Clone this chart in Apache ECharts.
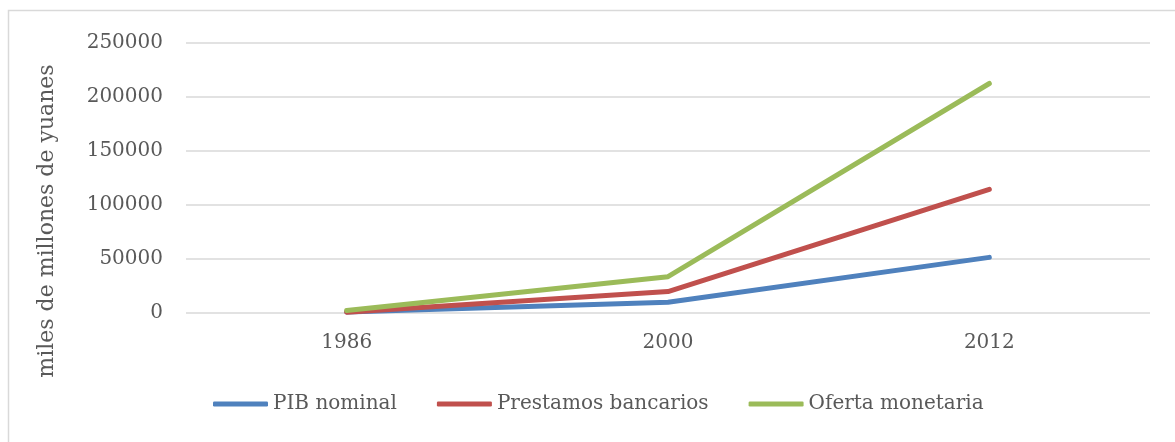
<!DOCTYPE html>
<html>
<head>
<meta charset="utf-8">
<script src="https://cdn.jsdelivr.net/npm/echarts@6/dist/echarts.min.js"></script>
<style>
  html, body { margin: 0; padding: 0; background: #fff; }
  #chart { width: 1175px; height: 442px; }
</style>
</head>
<body>
<div id="chart"></div>
<script>
// Years on the horizontal axis
const years = ['1986', '2000', '2012'];
// Series values, miles de millones de yuanes
const pibNominal = [1000, 9900, 51500];
const prestamosBancarios = [800, 19800, 114500];
const ofertaMonetaria = [2400, 33600, 212500];
// Y-axis ticks
const yMin = 0, yMax = 250000, yStep = 50000;
const yTitle = 'miles de millones de yuanes';

const FONT = 'DejaVu Serif';
const TEXT = '#595959';

const chart = echarts.init(document.getElementById('chart'), null, { renderer: 'canvas' });

function lineSeries(name, data, color) {
  return {
    name, type: 'line', data,
    symbol: 'none',
    lineStyle: { width: 5, color, cap: 'round', join: 'round' },
    itemStyle: { color },
    emphasis: { disabled: true }
  };
}

chart.setOption({
  animation: false,
  backgroundColor: '#fff',
  graphic: [
    {
      type: 'rect', left: 6, top: 8,
      shape: { width: 1200, height: 500 },
      style: { fill: 'none', stroke: '#d9d9d9', lineWidth: 1.5 },
      silent: true
    },
    {
      // vertical axis title, centred beside the plot
      type: 'text', x: 47, y: 221, rotation: Math.PI / 2,
      style: {
        text: yTitle, fontFamily: FONT, fontSize: 22, fill: TEXT,
        align: 'center', verticalAlign: 'middle'
      },
      silent: true
    }
  ],
  grid: { left: 186, right: 25, top: 43, bottom: 129 },
  legend: {
    bottom: 23, left: 208,
    icon: 'roundRect',
    itemWidth: 55, itemHeight: 5, itemGap: 40,
    textStyle: { fontFamily: FONT, fontSize: 20, color: TEXT },
    data: ['PIB nominal', 'Prestamos bancarios', 'Oferta monetaria']
  },
  xAxis: {
    type: 'category', data: years, boundaryGap: true,
    axisLine: { show: false }, axisTick: { show: false },
    axisLabel: { fontFamily: FONT, fontSize: 20, color: TEXT, margin: 20 }
  },
  yAxis: {
    type: 'value', min: yMin, max: yMax, interval: yStep,
    axisLine: { show: false }, axisTick: { show: false },
    axisLabel: { fontFamily: FONT, fontSize: 20, color: TEXT, margin: 23, formatter: v => String(v) },
    splitLine: { lineStyle: { color: '#d9d9d9', width: 1.5 } }
  },
  series: [
    lineSeries('PIB nominal', pibNominal, '#4F81BD'),
    lineSeries('Prestamos bancarios', prestamosBancarios, '#C0504D'),
    lineSeries('Oferta monetaria', ofertaMonetaria, '#9BBB59')
  ]
});
</script>
</body>
</html>
